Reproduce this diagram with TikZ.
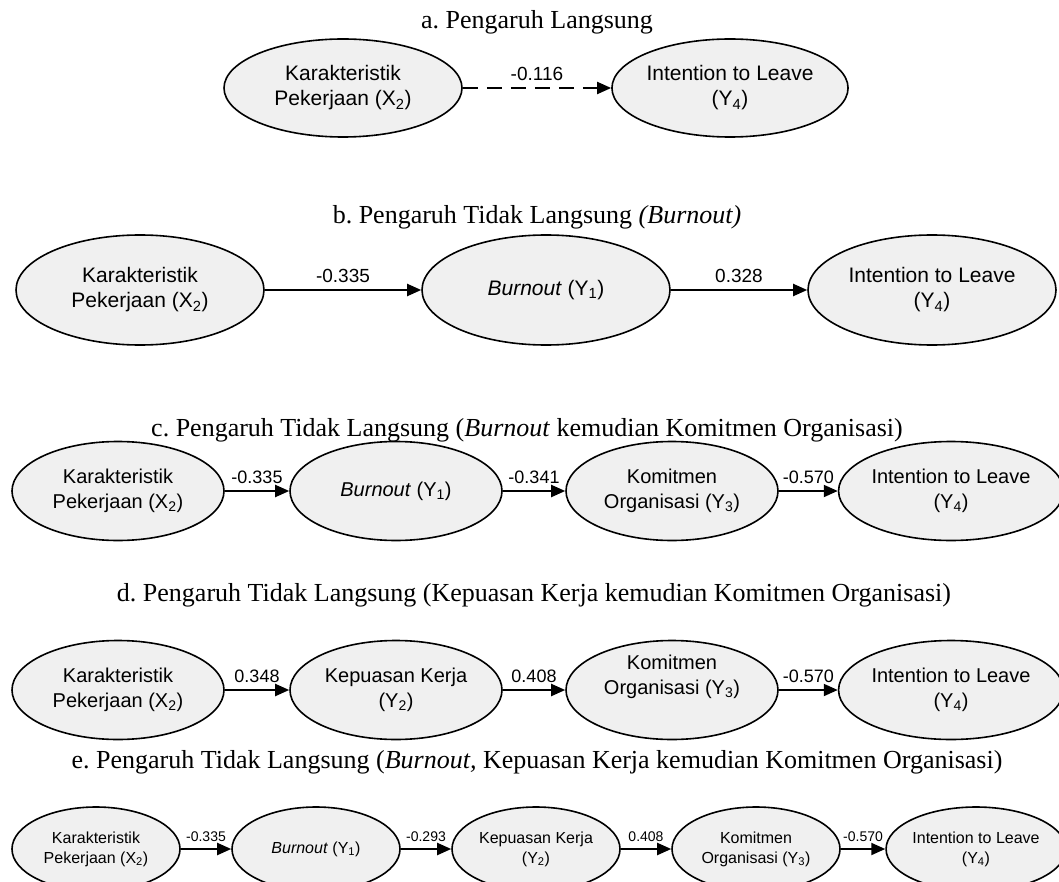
\documentclass[tikz,border=0pt]{standalone}
\usepackage{fontspec}
\setmainfont{Liberation Serif}
\setsansfont{Liberation Sans}
\usetikzlibrary{shapes.geometric}
\usetikzlibrary{arrows.meta}
\frenchspacing

\tikzset{
  var/.style={ellipse, draw=black, line width=1.6pt, fill=black!6, align=center, inner sep=0pt},
  varB/.style={var, minimum width=248pt, minimum height=110pt, font=\sffamily\fontsize{21}{25}\selectfont},
  varC/.style={var, minimum width=212pt, minimum height=99pt, font=\sffamily\fontsize{20}{25}\selectfont},
  varE/.style={var, minimum width=168pt, minimum height=84pt, font=\sffamily\fontsize{16}{20}\selectfont},
  jalur/.style={line width=2pt, -{Triangle[length=14pt,width=12pt]}},
  koef/.style={font=\sffamily\fontsize{18}{21}\selectfont, inner sep=0pt, above=6pt},
  judul/.style={font=\rmfamily\fontsize{26}{30}\selectfont, inner sep=0pt}
}
\newcommand{\sub}[1]{\textsubscript{#1}}

\begin{document}
\begin{tikzpicture}[x=1pt,y=-1pt]
\clip (0,0) rectangle (1059,882);

% a. pengaruh langsung
\node[judul] (ta) at (537,22) {a. Pengaruh Langsung};
\node[varB, minimum width=238pt, minimum height=98pt] (a-x2) at (343,88) {Karakteristik\\Pekerjaan (X\sub{2})};
\node[varB, minimum width=236pt, minimum height=98pt] (a-y4) at (730,88) {Intention to Leave\\(Y\sub{4})};
\draw[jalur, dash pattern=on 15pt off 9pt] (a-x2) -- node[koef, font=\sffamily\fontsize{19}{22}\selectfont] {-0.116} (a-y4);

% b. lewat burnout
\node[judul] (tb) at (537,217) {b. Pengaruh Tidak Langsung \textit{(Burnout)}};
\node[varB] (b-x2) at (140,290) {Karakteristik\\Pekerjaan (X\sub{2})};
\node[varB] (b-y1) at (546,290) {\textit{Burnout} (Y\sub{1})};
\node[varB] (b-y4) at (932,290) {Intention to Leave\\(Y\sub{4})};
\draw[jalur] (b-x2) -- node[koef, font=\sffamily\fontsize{19}{22}\selectfont] {-0.335} (b-y1);
\draw[jalur] (b-y1) -- node[koef, font=\sffamily\fontsize{19}{22}\selectfont] {0.328} (b-y4);

% c. burnout lalu komitmen
\node[judul] (tc) at (527,430) {c. Pengaruh Tidak Langsung (\textit{Burnout} kemudian Komitmen Organisasi)};
\node[varC] (c-x2) at (118,491) {Karakteristik\\Pekerjaan (X\sub{2})};
\node[varC] (c-y1) at (396,491) {\textit{Burnout} (Y\sub{1})};
\node[varC] (c-y3) at (672,491) {Komitmen\\Organisasi (Y\sub{3})};
\node[varC] (c-y4) at (951,491) {Intention to Leave\\(Y\sub{4})};
\draw[jalur] (c-x2) -- node[koef] {-0.335} (c-y1);
\draw[jalur] (c-y1) -- node[koef] {-0.341} (c-y3);
\draw[jalur] (c-y3) -- node[koef] {-0.570} (c-y4);

% d. kepuasan lalu komitmen
\node[judul] (td) at (534,595) {d. Pengaruh Tidak Langsung (Kepuasan Kerja kemudian Komitmen Organisasi)};
\node[varC] (d-x2) at (118,690) {Karakteristik\\Pekerjaan (X\sub{2})};
\node[varC] (d-y2) at (396,690) {Kepuasan Kerja\\(Y\sub{2})};
\node[varC] (d-y3) at (672,690)
   {\raisebox{13pt}[\height][\depth]{\begin{tabular}{@{}c@{}}Komitmen\\Organisasi (Y\sub{3})\end{tabular}}};
\node[varC] (d-y4) at (951,690) {Intention to Leave\\(Y\sub{4})};
\draw[jalur] (d-x2) -- node[koef] {0.348} (d-y2);
\draw[jalur] (d-y2) -- node[koef] {0.408} (d-y3);
\draw[jalur] (d-y3) -- node[koef] {-0.570} (d-y4);

% e. burnout, kepuasan lalu komitmen
\node[judul] (te) at (537,762) {e. Pengaruh Tidak Langsung (\textit{Burnout,} Kepuasan Kerja kemudian Komitmen Organisasi)};
\node[varE] (e-x2) at (96,849) {Karakteristik\\Pekerjaan (X\sub{2})};
\node[varE] (e-y1) at (316,849) {\textit{Burnout} (Y\sub{1})};
\node[varE] (e-y2) at (536,849) {Kepuasan Kerja\\(Y\sub{2})};
\node[varE] (e-y3) at (756,849) {Komitmen\\Organisasi (Y\sub{3})};
\node[varE] (e-y4) at (976,849) {Intention to Leave\\(Y\sub{4})};
\draw[jalur] (e-x2) -- node[koef, font=\sffamily\fontsize{14}{17}\selectfont] {-0.335} (e-y1);
\draw[jalur] (e-y1) -- node[koef, font=\sffamily\fontsize{14}{17}\selectfont] {-0.293} (e-y2);
\draw[jalur] (e-y2) -- node[koef, font=\sffamily\fontsize{14}{17}\selectfont] {0.408} (e-y3);
\draw[jalur] (e-y3) -- node[koef, font=\sffamily\fontsize{14}{17}\selectfont] {-0.570} (e-y4);
\end{tikzpicture}
\end{document}
